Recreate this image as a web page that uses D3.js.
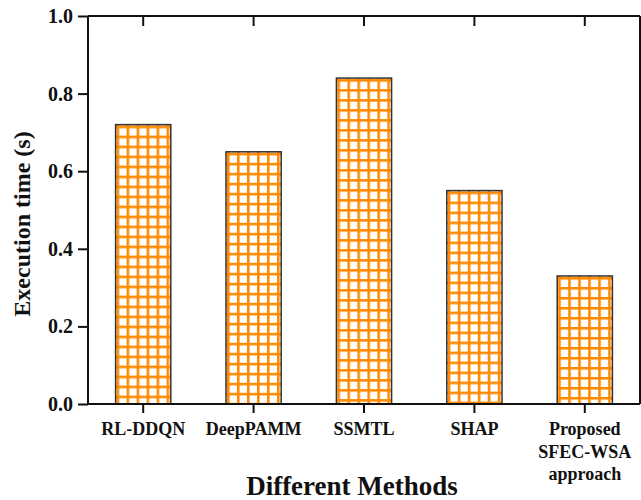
<!DOCTYPE html>
<html>
<head>
<meta charset="utf-8">
<script src="https://cdn.jsdelivr.net/npm/d3@7"></script>
<style>
  body { margin: 0; background: #fff; }
  svg text { font-family: "Liberation Serif", "Times New Roman", serif; font-weight: bold; fill: #111; }
</style>
</head>
<body>
<div id="chart"></div>
<script>
var methods = ['RL-DDQN', 'DeepPAMM', 'SSMTL', 'SHAP', 'Proposed SFEC-WSA approach']
var methodLines = [['RL-DDQN'], ['DeepPAMM'], ['SSMTL'], ['SHAP'], ['Proposed', 'SFEC-WSA', 'approach']]
var execTime = [0.72, 0.65, 0.84, 0.55, 0.33]
var yTicks = [0, 0.2, 0.4, 0.6, 0.8, 1.0]

var width = 641, height = 500
var margin = {top: 16, right: 1, bottom: 96, left: 88}
var w = width - margin.left - margin.right
var h = height - margin.top - margin.bottom

var svg = d3.select('#chart').append('svg')
  .attr('width', width)
  .attr('height', height)

var g = svg.append('g')
  .attr('transform', 'translate(' + margin.left + ',' + margin.top + ')')

var x = d3.scaleBand().domain(methods).range([0, w]).paddingInner(0.5).paddingOuter(0.25)
var y = d3.scaleLinear().domain([0, 1]).range([h, 0])

// grid patterns, one per bar so the grid starts at each bar's edge
var defs = svg.append('defs')
methods.forEach(function(m, i){
  var p = defs.append('pattern')
    .attr('id', 'grid' + i)
    .attr('patternUnits', 'userSpaceOnUse')
    .attr('x', x(m) + 1)
    .attr('y', y(execTime[i]) + 1)
    .attr('width', 10).attr('height', 10)
  p.append('rect').attr('width', 10).attr('height', 10).attr('fill', '#fff')
  p.append('rect').attr('x', 0).attr('y', 0).attr('width', 2.6).attr('height', 10).attr('fill', '#ff8a00')
  p.append('rect').attr('x', 0).attr('y', 0).attr('width', 10).attr('height', 2.6).attr('fill', '#ff8a00')
})

g.selectAll('rect.bar')
  .data(execTime)
  .enter().append('rect')
  .attr('class', 'bar')
  .attr('x', function(d, i){ return x(methods[i]) })
  .attr('y', function(d){ return y(d) })
  .attr('width', x.bandwidth())
  .attr('height', function(d){ return h - y(d) })
  .attr('fill', function(d, i){ return 'url(#grid' + i + ')' })
  .attr('stroke', '#333')
  .attr('stroke-width', 1.5)

// axes
var leftAxis = g.append('g')
  .call(d3.axisLeft(y).tickValues(yTicks).tickFormat(d3.format('.1f')).tickSize(10).tickPadding(5))
var rightAxis = g.append('g').attr('transform', 'translate(' + w + ',0)')
  .call(d3.axisLeft(y).tickValues(yTicks.slice(1, 5)).tickSize(-7).tickFormat(''))
var bottomAxis = g.append('g').attr('transform', 'translate(0,' + h + ')')
  .call(d3.axisBottom(x).tickSize(9).tickFormat(''))
var topAxis = g.append('g')
  .call(d3.axisBottom(x).tickSize(10).tickFormat(''))

;[leftAxis, rightAxis, bottomAxis, topAxis].forEach(function(a){
  a.attr('font-family', null)
  a.select('.domain').attr('stroke', '#111').attr('stroke-width', 2)
  a.selectAll('.tick line').attr('stroke', '#111').attr('stroke-width', 2)
})
// plain lines for the frame (no outer ticks)
leftAxis.select('.domain').attr('d', 'M0,0V' + h)
rightAxis.select('.domain').attr('d', 'M0,0V' + h)
bottomAxis.select('.domain').attr('d', 'M0,0H' + w)
topAxis.select('.domain').attr('d', 'M0,0H' + w)

leftAxis.selectAll('.tick text')
  .style('font-size', '20px')
  .attr('fill', '#111')

// category labels
methodLines.forEach(function(lines, i){
  var t = g.append('text')
    .attr('x', x(methods[i]) + x.bandwidth() / 2)
    .attr('y', h + 31)
    .attr('text-anchor', 'middle')
    .style('font-size', '18px')
  lines.forEach(function(l, j){
    t.append('tspan')
      .attr('x', x(methods[i]) + x.bandwidth() / 2)
      .attr('dy', j == 0 ? 0 : 22.5)
      .text(l)
  })
})

// axis titles
svg.append('text')
  .attr('x', 352)
  .attr('y', 495)
  .attr('text-anchor', 'middle')
  .style('font-size', '27px')
  .text('Different Methods')

svg.append('text')
  .attr('transform', 'translate(30,224) rotate(-90)')
  .attr('text-anchor', 'middle')
  .style('font-size', '24px')
  .text('Execution time (s)')
</script>
</body>
</html>
